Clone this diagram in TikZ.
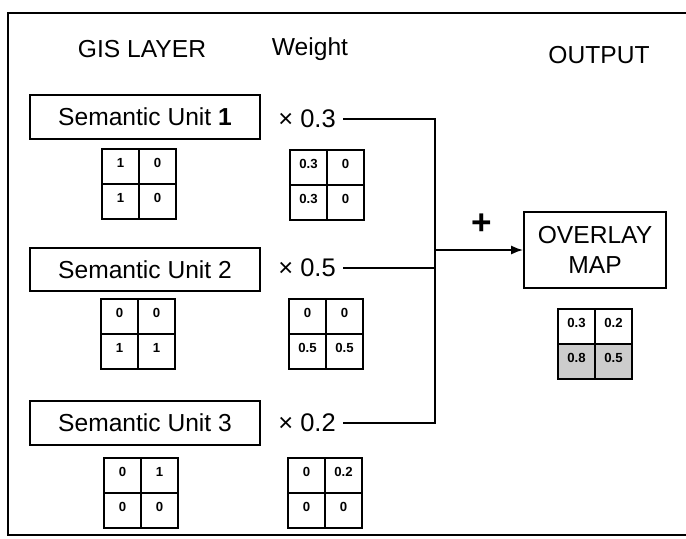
\documentclass[tikz,border=0pt]{standalone}
\usepackage{fontspec}
\setmainfont{Liberation Sans}
\usetikzlibrary{arrows.meta,matrix}

\begin{document}
\begin{tikzpicture}[
    x=0.02cm, y=-0.02cm,
    heading/.style={font=\fontsize{14}{17}\selectfont},
    layerbox/.style={
        rectangle,
        draw,
        line width=1pt,
        minimum width=4.6cm,
        minimum height=0.87cm,
        inner sep=0pt,
        align=center,
        font=\fontsize{14}{17}\selectfont
    },
    weight/.style={inner xsep=4pt, font=\fontsize{14.5}{17}\selectfont},
    cellgrid/.style={
        matrix of nodes,
        column sep=-1pt,
        row sep=-1pt,
        nodes={draw, line width=1pt, minimum width=0.74cm, minimum height=0.70cm,
            inner sep=0pt, text height=6pt, text depth=4.8pt,
            font=\fontsize{7.5}{9}\selectfont\bfseries}
    },
    shaded/.style={fill=gray!40},
    wire/.style={line width=1pt},
    arrow/.style={-{Latex[length=2.4mm, width=1.8mm]}, line width=1pt}
]
    \useasboundingbox (0,0) rectangle (686,538);
    \draw[line width=1pt] (690,13) -- (8,13) -- (8,535) -- (690,535);

    % column headings
    \node[heading] (gishead) at (142,49) {GIS LAYER};
    \node[heading] (wthead) at (310,49) {Weight};
    \node[heading] (outhead) at (599,55) {OUTPUT};

    % layers and their weights
    \node[layerbox] (su1) at (145,117) {Semantic Unit \textbf{1}};
    \node[layerbox] (su2) at (145,269.5) {Semantic Unit 2};
    \node[layerbox] (su3) at (145,423) {Semantic Unit 3};

    \node[weight] (w1) at (307,119) {× 0.3};
    \node[weight] (w2) at (307,268) {× 0.5};
    \node[weight] (w3) at (307,423) {× 0.2};

    \matrix (gis1) [cellgrid] at (139,184) {1 & 0 \\ 1 & 0 \\};
    \matrix (gis2) [cellgrid] at (138,334) {0 & 0 \\ 1 & 1 \\};
    \matrix (gis3) [cellgrid] at (141,493) {0 & 1 \\ 0 & 0 \\};

    \matrix (wt1) [cellgrid] at (327,185) {0.3 & 0 \\ 0.3 & 0 \\};
    \matrix (wt2) [cellgrid] at (326,334) {0 & 0 \\ 0.5 & 0.5 \\};
    \matrix (wt3) [cellgrid] at (325,493) {0 & 0.2 \\ 0 & 0 \\};

    % output
    \node[layerbox, minimum width=2.84cm, minimum height=1.52cm] (ovl) at (595,250) {OVERLAY\\MAP};
    \matrix (outgrid) [cellgrid] at (595,344) {0.3 & 0.2 \\ |[shaded]| 0.8 & |[shaded]| 0.5 \\};

    \coordinate (bus) at (435,250);
    \node[font=\fontsize{20}{20}\selectfont\bfseries] (plus) at (482,224) {+};

    \draw[wire] (w1.east) -- (w1.east -| bus) -- (w3.east -| bus) -- (w3.east);
    \draw[wire] (w2.east) -- (w2.east -| bus);
    \draw[arrow] (bus |- ovl.west) -- (ovl.west);
\end{tikzpicture}
\end{document}
